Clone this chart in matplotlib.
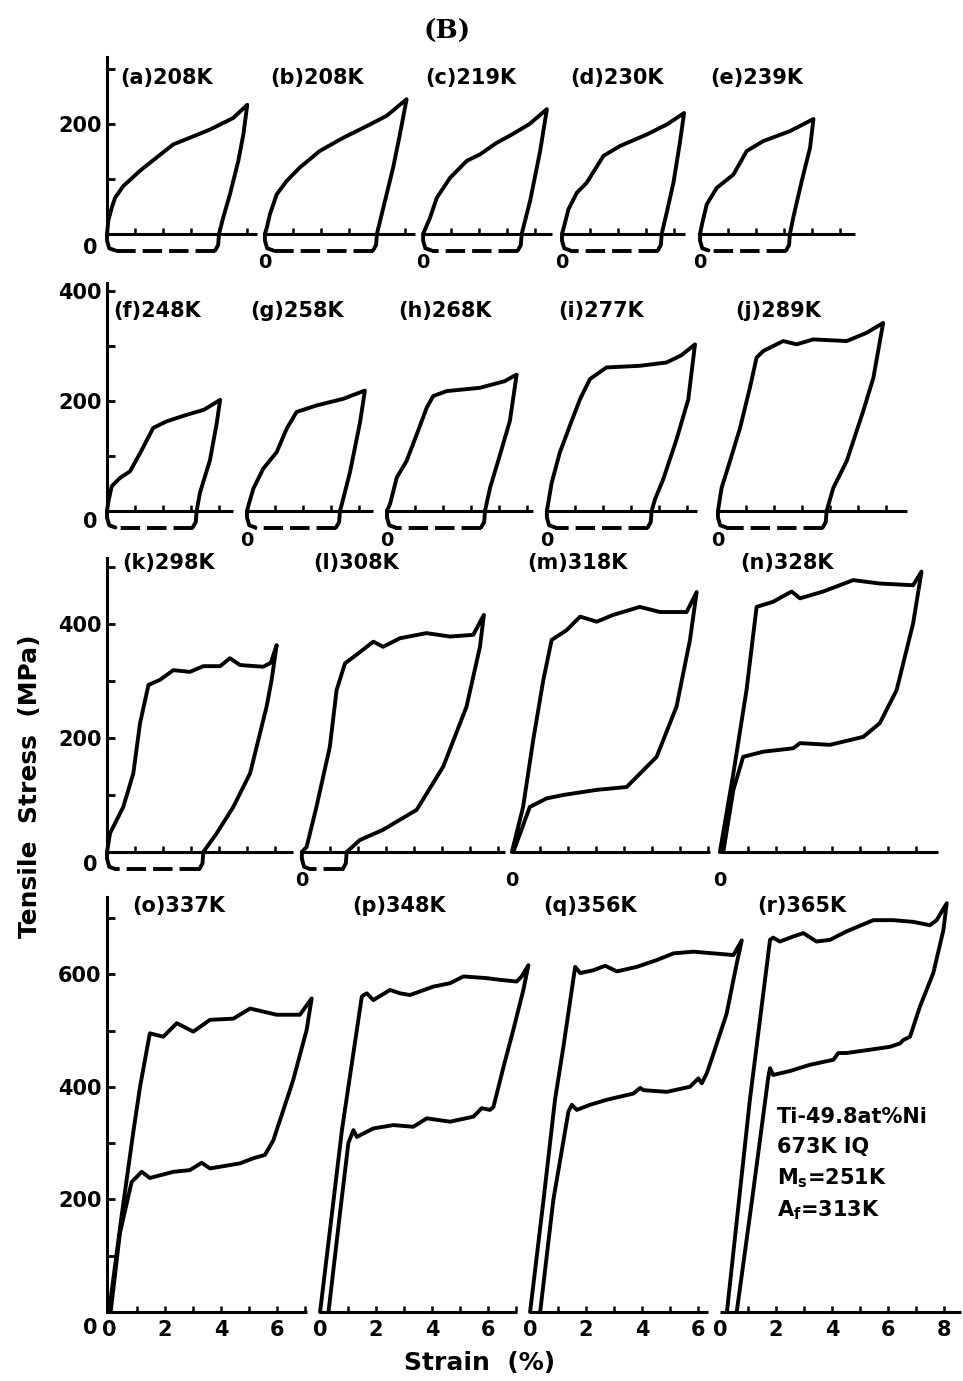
import numpy as np
import matplotlib
matplotlib.use("Agg")
import matplotlib.pyplot as plt

plt.rcParams["font.family"] = ["DejaVu Sans"]
plt.rcParams["font.weight"] = "bold"
plt.rcParams["mathtext.default"] = "bf"

# ---- test temperatures (K) ------------------------------------------------
LETTERS = list("abcdefghijklmnopqr")
TEMPS = [208, 208, 219, 230, 239, 248, 258, 268, 277, 289,
         298, 308, 318, 328, 337, 348, 356, 365]

# ---- stress-strain loops: strain (%) and stress (MPa), loading then unloading
eps_a = [0, 0.05, 0.17, 0.29, 0.58, 1.18, 1.77, 2.37, 2.96, 3.68, 4.51, 5.01, 4.87, 4.69, 4.39, 4.15, 4.0]
sig_a = [0, 25, 48, 66, 87, 115, 139, 163, 175, 190, 211, 235, 181, 133, 72, 30, 0]
eps_b = [0, 0.07, 0.18, 0.42, 0.77, 1.25, 1.96, 2.8, 3.63, 4.35, 5.06, 4.82, 4.58, 4.23, 4.0]
sig_b = [0, 12, 36, 72, 96, 121, 151, 175, 196, 215, 245, 181, 121, 48, 0]
eps_c = [0, 0.1, 0.25, 0.49, 0.96, 1.56, 2.04, 2.6, 3.21, 3.8, 4.42, 4.18, 3.82, 3.52]
sig_c = [0, 12, 30, 66, 102, 133, 145, 165, 182, 200, 227, 151, 60, 0]
eps_d = [0, 0.08, 0.23, 0.53, 0.88, 1.48, 2.07, 3.03, 3.74, 4.36, 4.21, 3.98, 3.74, 3.56]
sig_d = [0, 15, 45, 75, 93, 142, 160, 181, 199, 220, 166, 93, 39, 0]
eps_e = [0, 0.08, 0.24, 0.6, 1.19, 1.67, 2.26, 3.21, 4.05, 3.93, 3.63, 3.33, 3.21]
sig_e = [0, 20, 54, 84, 108, 151, 169, 187, 209, 157, 96, 30, 0]
eps_f = [0, 0.06, 0.17, 0.46, 0.82, 1.18, 1.65, 2.13, 2.85, 3.46, 4.04, 3.92, 3.68, 3.32, 3.2]
sig_f = [0, 20, 45, 60, 72, 105, 151, 163, 175, 184, 202, 160, 93, 33, 0]
eps_g = [0, 0.08, 0.23, 0.58, 1.06, 1.42, 1.77, 2.49, 3.44, 4.21, 4.04, 3.68, 3.38, 3.32]
sig_g = [0, 15, 41, 77, 107, 150, 180, 192, 204, 219, 162, 71, 11, 0]
eps_h = [0, 0.11, 0.35, 0.7, 1.06, 1.42, 1.65, 2.13, 3.32, 4.2, 4.63, 4.39, 4.04, 3.68, 3.5]
sig_h = [0, 13, 61, 91, 139, 188, 209, 218, 224, 236, 248, 164, 103, 42, 0]
eps_i = [0, 0.17, 0.46, 0.82, 1.18, 1.54, 2.13, 3.32, 4.27, 4.8, 5.29, 5.05, 4.63, 4.15, 3.86, 3.74]
sig_i = [0, 51, 106, 155, 203, 240, 261, 264, 270, 283, 303, 203, 130, 57, 21, 0]
eps_j = [0, 0.13, 0.43, 0.79, 1.14, 1.38, 1.62, 2.33, 2.81, 3.4, 4.6, 5.31, 5.9, 5.55, 5.19, 4.6, 4.12, 3.88]
sig_j = [0, 42, 91, 151, 224, 279, 291, 309, 303, 312, 309, 324, 342, 242, 182, 91, 42, 0]
eps_k = [0, 0.11, 0.58, 0.94, 1.18, 1.48, 1.89, 2.37, 2.96, 3.44, 4.04, 4.39, 4.75, 5.58, 5.85, 6.06,
         5.88, 5.7, 5.11, 4.51, 3.92, 3.44]
sig_k = [0, 33, 79, 138, 226, 293, 302, 319, 316, 326, 326, 340, 328, 325, 332, 363,
         302, 255, 138, 79, 33, 0]
eps_l = [0, 0.17, 0.52, 1.0, 1.24, 1.54, 1.95, 2.55, 2.9, 3.5, 4.45, 5.29, 6.12, 6.5,
         6.36, 5.88, 5.05, 4.1, 2.9, 2.07, 1.6]
sig_l = [0, 9, 79, 185, 284, 331, 346, 369, 360, 375, 384, 378, 381, 416,
         360, 255, 150, 74, 39, 21, 0]
eps_m = [0, 0.4, 0.76, 1.12, 1.42, 1.95, 2.44, 3.03, 3.62, 4.57, 5.29, 6.24, 6.6,
         6.36, 5.88, 5.17, 4.1, 3.03, 1.83, 1.24, 0.64, 0.05]
sig_m = [0, 79, 196, 301, 372, 389, 413, 404, 416, 430, 421, 421, 456,
         372, 255, 167, 114, 109, 100, 94, 79, 0]
eps_n = [0, 0.48, 0.95, 1.31, 1.9, 2.56, 2.86, 3.69, 4.76, 5.71, 6.9, 7.2,
         6.9, 6.31, 5.71, 5.12, 3.93, 2.86, 2.62, 1.55, 0.83, 0.48, 0.12]
sig_n = [0, 138, 284, 430, 439, 457, 445, 457, 477, 471, 468, 492,
         401, 284, 226, 202, 188, 191, 182, 176, 167, 109, 0]
eps_o = [0, 0.45, 0.87, 1.11, 1.46, 1.94, 2.42, 3.01, 3.61, 4.44, 5.04, 5.99, 6.82, 7.24,
         7.06, 6.58, 6.35, 5.87, 5.57, 5.15, 4.68, 3.61, 3.31, 2.89, 2.3, 1.46, 1.17, 0.81, 0.39, 0.06]
sig_o = [0, 170, 320, 400, 495, 489, 513, 498, 519, 521, 539, 528, 528, 557,
         501, 412, 377, 305, 279, 273, 264, 255, 265, 252, 249, 238, 249, 231, 140, 0]
eps_p = [0, 0.4, 0.78, 1.1, 1.49, 1.56, 1.67, 1.9, 2.5, 2.86, 3.21, 4.05, 4.64, 5.12, 5.95, 6.43, 7.02, 7.2, 7.44,
         7.26, 6.9, 6.55, 6.19, 6.07, 5.77, 5.48, 4.64, 3.81, 3.33, 2.62, 1.9, 1.31, 1.19, 1.01, 0.71, 0.3]
sig_p = [0, 165, 323, 430, 560, 563, 566, 554, 572, 566, 563, 578, 584, 596, 593, 590, 587, 596, 616,
         572, 501, 435, 364, 359, 362, 347, 338, 344, 329, 332, 326, 311, 323, 300, 175, 0]
eps_q = [0, 0.48, 0.89, 1.19, 1.61, 1.79, 2.26, 2.68, 3.1, 3.81, 4.52, 5.12, 5.83, 6.55, 7.26, 7.56,
         7.38, 7.02, 6.55, 6.31, 6.13, 6.01, 5.71, 4.88, 4.05, 3.93, 3.69, 2.74, 2.14, 1.67, 1.49, 1.37, 0.83, 0.36]
sig_q = [0, 199, 377, 471, 613, 602, 607, 615, 605, 613, 625, 637, 640, 637, 634, 660,
         619, 530, 459, 424, 406, 415, 400, 391, 394, 398, 388, 377, 368, 359, 368, 356, 199, 0]
eps_r = [0.25, 1.07, 1.79, 1.9, 2.14, 2.62, 2.98, 3.45, 3.93, 4.52, 5.48, 6.19, 6.9, 7.5, 7.74, 8.1,
         7.98, 7.62, 7.14, 6.79, 6.55, 6.43, 6.07, 5.24, 4.52, 4.23, 4.05, 3.21, 2.5, 1.9, 1.79, 1.73, 1.15, 0.6]
sig_r = [0, 377, 661, 665, 658, 667, 673, 658, 661, 676, 696, 696, 693, 687, 696, 726,
         678, 602, 542, 489, 483, 477, 471, 465, 460, 460, 448, 439, 428, 421, 433, 418, 200, 0]

LOOPS = {
    "a": (eps_a, sig_a), "b": (eps_b, sig_b), "c": (eps_c, sig_c), "d": (eps_d, sig_d),
    "e": (eps_e, sig_e), "f": (eps_f, sig_f), "g": (eps_g, sig_g), "h": (eps_h, sig_h),
    "i": (eps_i, sig_i), "j": (eps_j, sig_j), "k": (eps_k, sig_k), "l": (eps_l, sig_l),
    "m": (eps_m, sig_m), "n": (eps_n, sig_n), "o": (eps_o, sig_o), "p": (eps_p, sig_p),
    "q": (eps_q, sig_q), "r": (eps_r, sig_r),
}
# specimens whose residual strain is recovered on heating (dashed path)
RECOVERED = set("abcdefghijkl")

# strain tick labels printed under the bottom row
BOTTOM_TICKS = [[0, 2, 4, 6], [0, 2, 4, 6], [0, 2, 4, 6], [0, 2, 4, 6, 8]]

ALLOY_NOTE = ["Ti-49.8at%Ni", "673K IQ", r"M$_{s}$=251K", r"A$_{f}$=313K"]

# ---- layout -----------------------------------------------------------------
W, H = 963, 1381
PX_PER_STRAIN = 28.0
Y_AXIS_PX = 107
LW = 2.8
AX_LW = 2.2
DIP = 30  # depth of the heating-recovery path below the strain axis

ROW_SPECS = [
    dict(panels="abcde", y0=234, ppm=0.55, ylim=(-45, 330), top=322,
         major=[200], minor=[100, 300], zero_dy=14,
         offsets=[0, 5.64, 11.29, 16.25, 21.18], lengths=[5.36, 5.36, 4.61, 4.39, 5.54],
         label_x=[0.46, 5.82, 11.36, 16.54, 21.54], label_y=283),
    dict(panels="fghij", y0=511, ppm=0.55, ylim=(-45, 420), top=414,
         major=[200, 400], minor=[100, 300], zero_dy=11,
         offsets=[0, 5.0, 10.0, 15.71, 21.82], lengths=[4.5, 4.5, 5.21, 5.36, 6.75],
         label_x=[0.21, 5.11, 10.39, 16.11, 22.43], label_y=364),
    dict(panels="klmn", y0=852, ppm=0.57, ylim=(-45, 525), top=516,
         major=[200, 400], minor=[100, 300, 500], zero_dy=13,
         offsets=[0, 6.96, 14.46, 21.89], lengths=[6.64, 7.25, 7.07, 7.79],
         label_x=[0.54, 7.36, 15.0, 22.61], label_y=507),
    dict(panels="opqr", y0=1312, ppm=0.563, ylim=(-10, 745), top=737,
         major=[200, 400, 600], minor=[100, 300, 500, 700], zero_dy=16,
         offsets=[0.07, 7.61, 15.11, 21.89], lengths=[7.07, 7.04, 6.36, 8.6],
         label_x=[0.89, 8.75, 15.57, 23.21], label_y=721),
]

fig = plt.figure(figsize=(W / 100, H / 100), dpi=100)


def make_row_axes(spec):
    bottom_px = spec["y0"] - spec["ylim"][0] * spec["ppm"]
    top_px = spec["y0"] - spec["ylim"][1] * spec["ppm"]
    ax = fig.add_axes([Y_AXIS_PX / W, 1 - bottom_px / H,
                       (W - Y_AXIS_PX) / W, (bottom_px - top_px) / H])
    ax.set_xlim(0, (W - Y_AXIS_PX) / PX_PER_STRAIN)
    ax.set_ylim(*spec["ylim"])
    ax.patch.set_visible(False)
    for side in ("top", "right", "bottom"):
        ax.spines[side].set_visible(False)
    ax.spines["left"].set_bounds(0, spec["top"])
    ax.spines["left"].set_linewidth(AX_LW)
    ax.set_xticks([])
    ax.set_yticks(spec["major"], [str(v) for v in spec["major"]])
    ax.set_yticks(spec["minor"], minor=True)
    ax.tick_params(axis="y", which="both", direction="in", length=6, width=2,
                   labelsize=15, pad=4)
    for lbl in ax.get_yticklabels():
        lbl.set_fontweight("bold")
    # stress origin
    ax.annotate("0", xy=(0, 0), xytext=(-17, -spec["zero_dy"]), textcoords="offset pixels",
                ha="center", va="center", fontsize=15, fontweight="bold")
    return ax


def draw_strain_axis(ax, off, length):
    ax.hlines(0, off, off + length, color="k", lw=AX_LW, clip_on=False)
    ticks = off + np.arange(1, int(length) + 1)
    ax.plot(ticks, np.zeros_like(ticks), ls="none", marker=2, ms=4.5, mew=1.8,
            color="k", clip_on=False)


def draw_loop(ax, off, eps, sig, recovered):
    x = off + np.asarray(eps, dtype=float)
    ax.plot(x, sig, color="k", lw=LW, solid_joinstyle="round", solid_capstyle="round",
            clip_on=False)
    if recovered:
        e_end = eps[-1]
        # unloading line runs on below the axis, then the dashed recovery path
        ax.plot(off + np.array([e_end, e_end - 0.03, e_end - 0.14]), [0, -20, -DIP],
                color="k", lw=LW, solid_capstyle="round", clip_on=False)
        ax.plot(off + np.array([e_end - 0.14, 0.3]), [-DIP, -DIP], color="k", lw=LW,
                dashes=(5, 1.8), clip_on=False)
        ax.plot(off + np.array([0.3, 0.08, 0.0, 0.0]), [-DIP, -26, -12, 0],
                color="k", lw=LW, solid_capstyle="round", clip_on=False)


for r, spec in enumerate(ROW_SPECS):
    ax = make_row_axes(spec)
    last_row = r == len(ROW_SPECS) - 1
    for k, p in enumerate(spec["panels"]):
        off = spec["offsets"][k]
        draw_strain_axis(ax, off, spec["lengths"][k])
        eps, sig = LOOPS[p]
        draw_loop(ax, off, eps, sig, p in RECOVERED)
        idx = LETTERS.index(p)
        ax.text(spec["label_x"][k], spec["label_y"], f"({p}){TEMPS[idx]}K",
                ha="left", va="center", fontsize=15, fontweight="bold")
        if last_row:
            for t in BOTTOM_TICKS[k]:
                ax.annotate(str(t), xy=(off + t, 0), xytext=(0, -18),
                            textcoords="offset pixels", ha="center", va="center",
                            fontsize=15, fontweight="bold")
        elif k > 0:
            ax.annotate("0", xy=(off, 0), xytext=(0, -29), textcoords="offset pixels",
                        ha="center", va="center", fontsize=14, fontweight="bold")
    if last_row:
        note_y = [346, 293, 238, 181]
        for line, yv in zip(ALLOY_NOTE, note_y):
            ax.text(23.93, yv, line, ha="left", va="center", fontsize=15,
                    fontweight="bold")

fig.text(447 / W, 1 - 31 / H, "(B)", ha="center", va="center", fontsize=19,
         fontweight="bold", family="DejaVu Serif")
fig.text(30 / W, 1 - 786 / H, "Tensile  Stress  (MPa)", rotation=90,
         ha="center", va="center", fontsize=18, fontweight="bold")
fig.text(480 / W, 1 - 1363 / H, "Strain  (%)", ha="center", va="center",
         fontsize=18, fontweight="bold")

fig.savefig("out.png", dpi=100)
